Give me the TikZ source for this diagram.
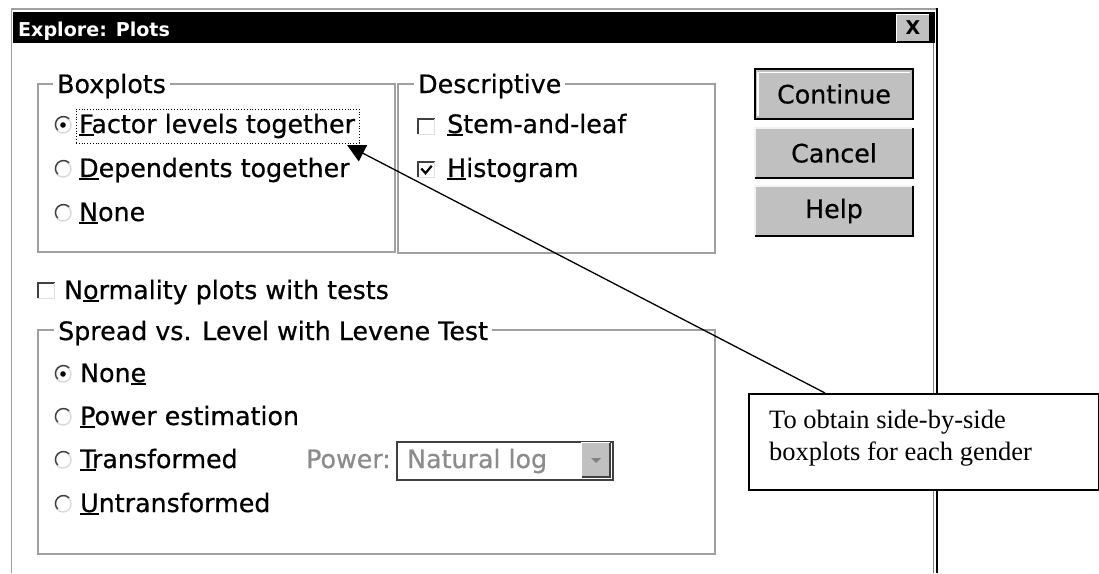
\documentclass[tikz,border=0pt]{standalone}
\usepackage{fontspec}
\usetikzlibrary{arrows.meta}
\newfontfamily\uif{DejaVu Sans}[FakeBold=0.6]
\newfontfamily\uiff{DejaVu Sans}
\newfontfamily\tnrf{Liberation Serif}
\definecolor{btn}{HTML}{C0C0C0}
\definecolor{frm}{HTML}{A0A0A0}
\definecolor{dis}{HTML}{8C8C8C}
\definecolor{dk}{HTML}{404040}
\newcommand\ulk[1]{\setbox0\hbox{#1}\rlap{\rule[-3pt]{\wd0}{1.6pt}}#1}
\tikzset{
  uitext/.style={font=\uif\fontsize{25.3}{30}\selectfont},
  lbl/.style={uitext, anchor=base west, inner sep=0pt},
  grplbl/.style={lbl, fill=white, inner xsep=4pt},
  frame/.style={draw=frm, line width=1.5pt},
  radio/.style={circle, minimum size=16pt, inner sep=0pt, draw=gray!30, line width=1.4pt},
  chk/.style={rectangle, minimum width=16pt, minimum height=15pt, inner sep=0pt},
  btnbox/.style={rectangle, fill=btn, minimum width=158pt, minimum height=49pt, inner sep=0pt, uitext},
  notetext/.style={anchor=base west, inner sep=0pt, font=\tnrf\fontsize{26.5}{32}\selectfont},
}
\begin{document}
\begin{tikzpicture}[x=1pt,y=-1pt]
\useasboundingbox (0,0) rectangle (1099,573);
% window
\draw[frm, line width=1.5pt] (11.5,573) -- (11.5,9) -- (937,9);
\node[fill=black, anchor=north west, minimum width=922pt, minimum height=31pt, inner sep=0pt] (titlebar) at (13,12) {};
\node[anchor=base west, inner sep=0pt, text=white, font=\uiff\bfseries\fontsize{19.1}{22}\selectfont] (title) at (18,36) {Explore: Plots};
\draw[gray, line width=1pt] (933.5,43) -- (933.5,573);
\draw[black, line width=2.5pt] (937,8) -- (937,573);
% close button
\node[rectangle, fill=btn, minimum width=32pt, minimum height=27pt, inner sep=0pt, font=\uiff\bfseries\fontsize{19}{22}\selectfont] (close) at (913,28) {X};
\draw[white, line width=1.2pt] (close.south west) -- (close.north west) -- (close.north east);
\draw[black, line width=1.2pt] (close.north east) -- (close.south east) -- (close.south west);
% buttons
\node[btnbox] (cont) at (834,94) {Continue};
\draw[white, line width=1.5pt] ([shift={(3pt,-3pt)}]cont.north west) -- ([shift={(-3pt,-3pt)}]cont.north east);
\draw[white, line width=1.5pt] ([shift={(3pt,-3pt)}]cont.north west) -- ([shift={(3pt,3pt)}]cont.south west);
\draw[black, line width=2.2pt] (cont.north west) rectangle (cont.south east);
\node[btnbox] (canc) at (834,153) {Cancel};
\draw[white!90!gray, line width=2pt] (canc.south west) -- (canc.north west) -- (canc.north east);
\draw[black, line width=2pt] (canc.north east) -- (canc.south east) -- (canc.south west);
\node[btnbox] (help) at (834,211) {Help};
\draw[white!90!gray, line width=2pt] (help.south west) -- (help.north west) -- (help.north east);
\draw[black, line width=2pt] (help.north east) -- (help.south east) -- (help.south west);
% Boxplots group
\draw[frame] (38,84) rectangle (395,252);
\node[grplbl] (gbox) at (53,93) {Boxplots};
\node[draw, dotted, line width=0.8pt, minimum width=283pt, minimum height=34pt, inner sep=0pt] (focus) at (217.5,126) {};
\node[radio] (r1) at (63,125) {};
\draw[dk, line width=1.4pt] (r1.45) arc[start angle=45, end angle=225, radius=8pt];
\fill[black] (r1.center) circle (2.8pt);
\node[lbl] (t1) at (79,133) {\ulk{F}actor levels together};
\node[radio] (r2) at (63,169) {};
\draw[dk, line width=1.4pt] (r2.45) arc[start angle=45, end angle=225, radius=8pt];
\node[lbl] (t2) at (79,177) {\ulk{D}ependents together};
\node[radio] (r3) at (63,213) {};
\draw[dk, line width=1.4pt] (r3.45) arc[start angle=45, end angle=225, radius=8pt];
\node[lbl] (t3) at (79,221) {\ulk{N}one};
% Descriptive group
\draw[frame] (398,84) rectangle (715,253);
\node[grplbl] (gdesc) at (414,93) {Descriptive};
\node[chk] (c1) at (426.5,126.5) {};
\draw[dk, line width=1.8pt] (c1.south west) -- (c1.north west) -- (c1.north east);
\draw[gray!25, line width=1.2pt] (c1.north east) -- (c1.south east) -- (c1.south west);
\node[lbl] (d1) at (447,133) {\ulk{S}tem-and-leaf};
\node[chk] (c2) at (426.5,169.5) {};
\draw[dk, line width=1.8pt] (c2.south west) -- (c2.north west) -- (c2.north east);
\draw[gray!25, line width=1.2pt] (c2.north east) -- (c2.south east) -- (c2.south west);
\draw[black, line width=2.2pt, line join=miter] ([shift={(3pt,1pt)}]c2.west) -- ([shift={(-1pt,4pt)}]c2.south) -- ([shift={(-3pt,-4pt)}]c2.north east);
\node[lbl] (d2) at (447,177) {\ulk{H}istogram};
% Normality
\node[chk] (c3) at (46.5,290.5) {};
\draw[dk, line width=1.8pt] (c3.south west) -- (c3.north west) -- (c3.north east);
\draw[gray!25, line width=1.2pt] (c3.north east) -- (c3.south east) -- (c3.south west);
\node[lbl] (nrm) at (64,299) {N\ulk{o}rmality plots with tests};
% Spread group
\draw[frame] (38,330) rectangle (715,554);
\node[grplbl] (gspr) at (54,340) {Spread vs. Level with Levene Test};
\node[radio] (s1) at (63,374) {};
\draw[dk, line width=1.4pt] (s1.45) arc[start angle=45, end angle=225, radius=8pt];
\fill[black] (s1.center) circle (2.8pt);
\node[lbl] (u1) at (80,382) {Non\ulk{e}};
\node[radio] (s2) at (63,417) {};
\draw[dk, line width=1.4pt] (s2.45) arc[start angle=45, end angle=225, radius=8pt];
\node[lbl] (u2) at (80,425) {\ulk{P}ower estimation};
\node[radio] (s3) at (63,460) {};
\draw[dk, line width=1.4pt] (s3.45) arc[start angle=45, end angle=225, radius=8pt];
\node[lbl] (u3) at (80,468) {\ulk{T}ransformed};
\node[radio] (s4) at (63,504) {};
\draw[dk, line width=1.4pt] (s4.45) arc[start angle=45, end angle=225, radius=8pt];
\node[lbl] (u4) at (80,512) {\ulk{U}ntransformed};
\node[lbl, text=dis] (pw) at (306,468) {Power:};
\node[rectangle, draw=dk, line width=2pt, fill=white, minimum width=216pt, minimum height=38pt, inner sep=0pt] (combo) at (505,461) {};
\node[lbl, text=dis] (nat) at (407,468) {Natural log};
\node[rectangle, fill=btn, minimum width=28pt, minimum height=34pt, inner sep=0pt] (drop) at (596,460) {};
\draw[white, line width=1.2pt] (drop.south west) -- (drop.north west) -- (drop.north east);
\draw[dk, line width=1.5pt] (drop.north east) -- (drop.south east) -- (drop.south west);
\fill[gray] ([shift={(-5pt,2pt)}]drop.center) -- ([shift={(5pt,2pt)}]drop.center) -- ([shift={(0pt,-3pt)}]drop.center) -- cycle;
% callout
\node[rectangle, draw=black, line width=1.5pt, fill=white, anchor=north west, minimum width=350pt, minimum height=96pt, inner sep=0pt] (note) at (748,393) {};
\node[notetext] (n1) at (769,428) {To obtain side-by-side};
\node[notetext] (n2) at (769,460) {boxplots for each gender};
\coordinate (tip) at (347,145);
\draw[line width=1.3pt, -{Triangle[length=18pt,width=18pt]}] ([xshift=77pt]note.north west) -- (tip);
\end{tikzpicture}
\end{document}
